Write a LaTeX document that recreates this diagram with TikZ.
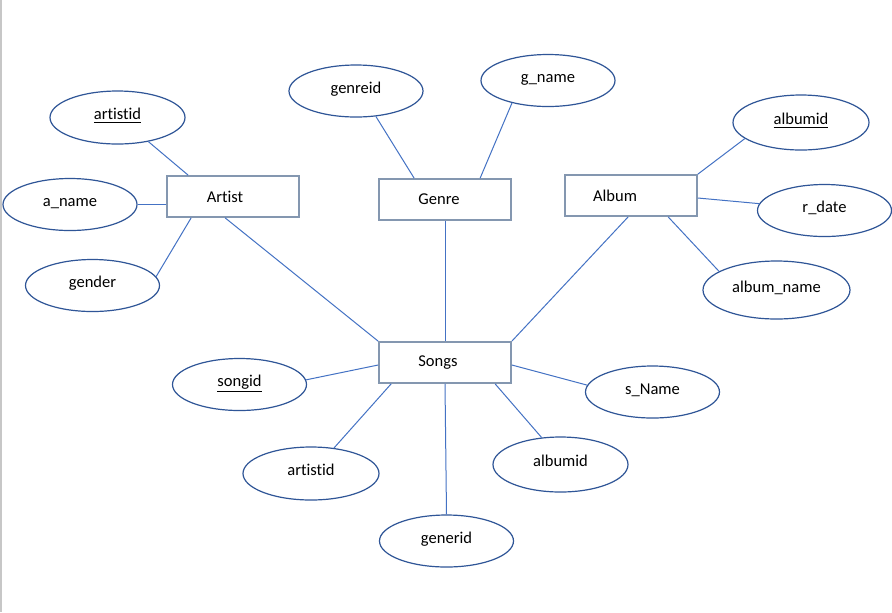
\documentclass[tikz,border=0pt]{standalone}
\usepackage{fontspec}
\setmainfont{Carlito}[Ligatures=NoCommon]
\usetikzlibrary{shapes.geometric,calc}
\definecolor{connc}{HTML}{4472C4}
\definecolor{ellb}{HTML}{2F5597}
\definecolor{rectb}{HTML}{8497B0}
\newlength\pxu \setlength\pxu{0.75pt}
\begin{document}
\begin{tikzpicture}[x=0.75pt,y=-0.75pt,
  ent/.style={draw=rectb, line width=1.3pt, fill=white, minimum width=132\pxu, minimum height=41\pxu, inner sep=0pt, font=\fontsize{12.4}{14}\selectfont},
  attr/.style={ellipse, draw=ellb, line width=0.9pt, fill=white, minimum width=134\pxu, minimum height=52\pxu, inner sep=0pt, text height=9pt, text depth=5.5pt, font=\fontsize{12.4}{14}\selectfont},
  conn/.style={draw=connc, line width=0.75pt}]
\useasboundingbox (0,0) rectangle (892,612);
\fill[white] (0,0) rectangle (892,612);
\draw[line width=1.5\pxu, draw=black!22] (1.2,0) -- (1.2,612);

% entities
\node[ent] (artist) at (233,196.5) {\hspace*{-16\pxu}Artist};
\node[ent] (genre) at (445,199.5) {\hspace*{-12\pxu}Genre};
\node[ent] (album) at (631,195.5) {\hspace*{-32\pxu}Album};
\node[ent] (songs) at (445,362.5) {\hspace*{-14\pxu}Songs};

% attributes
\node[attr, minimum width=135\pxu, minimum height=53\pxu] (a1) at (117.5,117.5) {\underline{artistid}};
\node[attr] (aname) at (70,204.5) {a\_name};
\node[attr] (gender) at (92.5,285.5) {gender};
\node[attr] (genreid) at (356,91) {genreid};
\node[attr] (gname) at (548,80.5) {g\_name};
\node[attr, minimum width=136\pxu, minimum height=55\pxu] (albumid) at (801,122.5) {\underline{albumid}};
\node[attr] (rdate) at (824.5,210.5) {r\_date};
\node[attr, minimum width=147\pxu, minimum height=58\pxu] (albname) at (776.5,290) {album\_name};
\node[attr] (songid) at (239.5,384.5) {\underline{songid}};
\node[attr, minimum width=136\pxu, minimum height=53\pxu] (sartist) at (311,473.5) {artistid};
\node[attr] (generid) at (446.5,541) {generid};
\node[attr, minimum width=135\pxu, minimum height=55\pxu] (salbum) at (560.5,464.5) {albumid};
\node[attr] (sname) at (652.5,392) {s\_Name};

% connectors
\draw[conn] (a1.-38) -- ($(artist.north west)+(22,0)$);
\draw[conn] (aname.east) -- (aname.east -| artist.west);
\draw[conn] (gender.8) -- ($(artist.south west)+(25,0)$);
\draw[conn] ($(artist.south west)+(59,0)$) -- (songs.north west);
\draw[conn] (genreid.-52) -- ($(genre.north west)+(36,0)$);
\draw[conn] (gname.212) -- ($(genre.north west)+(102,0)$);
\draw[conn] (genre.south) -- (songs.north);
\draw[conn] ($(album.south west)+(64,0)$) -- (songs.north east);
\draw[conn] (albumid.196) -- (album.north east);
\draw[conn] (rdate.174) -- ($(album.east)+(0,2.5)$);
\draw[conn] (albname.162) -- ($(album.south west)+(104,0)$);
\draw[conn] (songid.4) -- ($(songs.west)+(0,2.5)$);
\draw[conn] (sartist.48) -- ($(songs.south west)+(13,0)$);
\draw[conn] (generid.north) -- (songs.south);
\draw[conn] (salbum.125) -- ($(songs.south west)+(117,0)$);
\draw[conn] (sname.174) -- ($(songs.east)+(0,2.5)$);
\end{tikzpicture}
\end{document}
